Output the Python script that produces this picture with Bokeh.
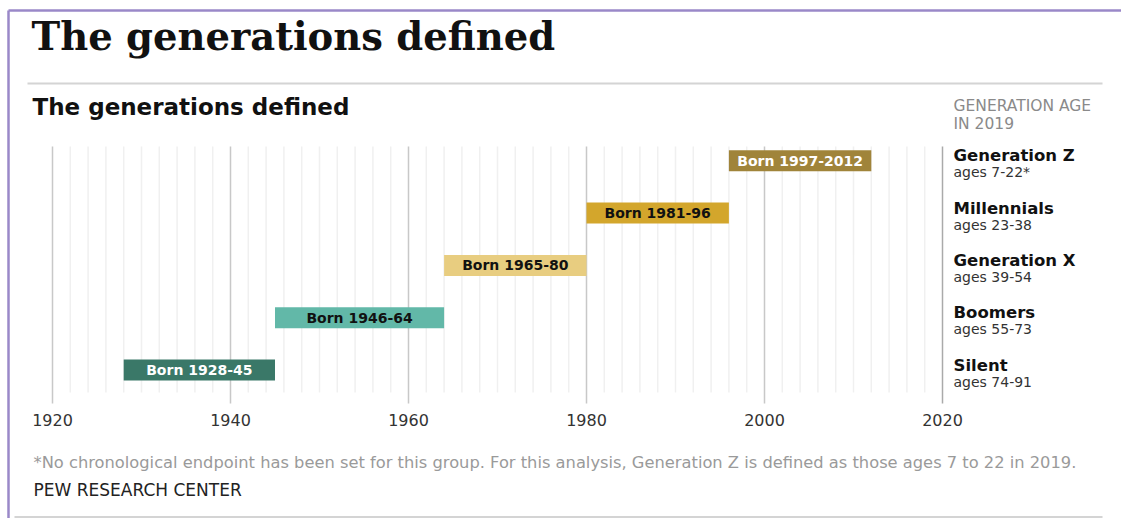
from bokeh.plotting import figure
from bokeh.models import Range1d
from bokeh.core.properties import value
from bokeh.embed import file_html
from bokeh.resources import INLINE

# ---------------- data ----------------
generations = ["Silent", "Boomers", "Generation X", "Millennials", "Generation Z"]
born_labels = ["Born 1928-45", "Born 1946-64", "Born 1965-80", "Born 1981-96", "Born 1997-2012"]
bar_start = [1928, 1945, 1964, 1980, 1996]
bar_end = [1945, 1964, 1980, 1996, 2012]
ages = ["ages 74-91", "ages 55-73", "ages 39-54", "ages 23-38", "ages 7-22*"]
tick_years = [1920, 1940, 1960, 1980, 2000, 2020]
tick_labels = ["1920", "1940", "1960", "1980", "2000", "2020"]

title = "The generations defined"
subtitle = "The generations defined"
legend_head = ["GENERATION AGE", "IN 2019"]
footnote = ("*No chronological endpoint has been set for this group. For this analysis, "
            "Generation Z is defined as those ages 7 to 22 in 2019.")
source = "PEW RESEARCH CENTER"

bar_colors = ["#3a7868", "#62b8a8", "#e8cd80", "#d3a62c", "#a0843a"]
text_colors = ["#ffffff", "#111111", "#111111", "#111111", "#ffffff"]

# ---------------- geometry ----------------
W, H = 1121, 518
X0PX, PXY = 52.0, 8.9          # pixel of 1920, pixels per year
ROW0, ROWPX = 369.5, 52.3      # pixel centre of row 0, pixels per row


def xpx(px):
    return 1920 + (px - X0PX) / PXY


def ypx(py):
    return (ROW0 - py) / ROWPX


p = figure(width=W, height=H, output_backend="svg", toolbar_location=None,
           x_range=Range1d(xpx(0), xpx(W)), y_range=Range1d(ypx(H), ypx(0)),
           min_border=0, min_border_left=0, min_border_right=0,
           min_border_top=0, min_border_bottom=0)
p.axis.visible = False
p.grid.visible = False
p.outline_line_color = None
p.background_fill_color = "white"
p.border_fill_color = "white"

SANS = value("DejaVu Sans")

# frame
p.segment(x0=[xpx(8), xpx(8)], y0=[ypx(10), ypx(10)], x1=[xpx(W + 5), xpx(8)], y1=[ypx(10), ypx(H + 5)],
          line_color="#9a88c8", line_width=2.5)
# separators
p.segment(x0=[xpx(27), xpx(14)], y0=[ypx(83), ypx(516.5)], x1=[xpx(1102), xpx(1102)], y1=[ypx(83), ypx(516.5)],
          line_color="#d4d4d4", line_width=2)

# grid lines
minor = [y for y in range(1920, 2021, 2) if y not in tick_years]
p.segment(x0=minor, x1=minor, y0=ypx(146), y1=ypx(392), line_color="#f0f0f0", line_width=1.5)
p.segment(x0=tick_years[:-1], x1=tick_years[:-1], y0=ypx(146), y1=ypx(403), line_color="#c8c8c8", line_width=1.5)
p.segment(x0=tick_years[-1:], x1=tick_years[-1:], y0=ypx(146), y1=ypx(403), line_color="#aaaaaa", line_width=1.5)

# tick labels
p.text(x=tick_years, y=ypx(419), text=tick_labels, text_align="center", text_baseline="middle",
       text_font=SANS, text_font_size="16px", text_color="#333333")

# bars
rows = list(range(len(generations)))
p.hbar(y=rows, left=bar_start, right=bar_end, height=21 / ROWPX, fill_color=bar_colors, line_color=None)
mids = [(a + b) / 2 for a, b in zip(bar_start, bar_end)]
p.text(x=mids, y=rows, text=born_labels, text_align="center", text_baseline="middle",
       text_font=SANS, text_font_style="bold", text_font_size="14px", text_color=text_colors)

# right-hand labels
p.text(x=[2020] * 5, y=rows, text=generations, x_offset=11, y_offset=-5, text_align="left",
       text_baseline="middle", text_font=SANS, text_font_style="bold", text_font_size="16.5px",
       text_color="#111111")
p.text(x=[2020] * 5, y=rows, text=ages, x_offset=11, y_offset=11.5, text_align="left",
       text_baseline="middle", text_font=SANS, text_font_size="14px", text_color="#333333")
p.text(x=[xpx(953)] * 2, y=[ypx(105.5), ypx(123.5)], text=legend_head, text_align="left",
       text_baseline="middle", text_font=SANS, text_font_size="15.5px", text_color="#8a8a8a")

# titles
p.text(x=[xpx(31)], y=[ypx(36)], text=[title], text_baseline="middle",
       text_font=value("DejaVu Serif"), text_font_style="bold", text_font_size="38.5px", text_color="#111111")
p.text(x=[xpx(32)], y=[ypx(106)], text=[subtitle], text_baseline="middle",
       text_font=SANS, text_font_style="bold", text_font_size="23px", text_color="#111111")

# notes
p.text(x=[xpx(33)], y=[ypx(461.5)], text=[footnote], text_baseline="middle",
       text_font=SANS, text_font_size="16.3px", text_color="#9a9a9a")
p.text(x=[xpx(33)], y=[ypx(489)], text=[source], text_baseline="middle",
       text_font=SANS, text_font_size="17px", text_color="#222222")

open("out.html", "w").write(file_html(p, INLINE))
